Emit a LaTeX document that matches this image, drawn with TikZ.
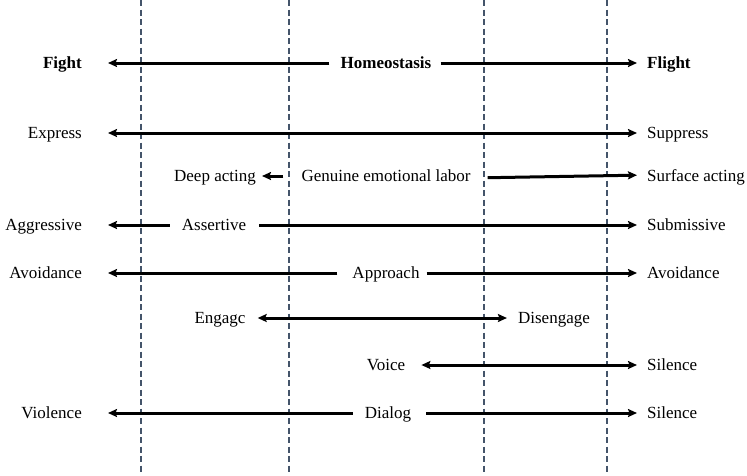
\documentclass[tikz,border=0pt]{standalone}
\usepackage{fontspec}
\setmainfont{Liberation Serif}
\usetikzlibrary{arrows.meta}
\definecolor{zonegray}{HTML}{44546A}
\tikzset{
  lab/.style={inner sep=0pt,text height=11pt,text depth=0pt,font=\fontsize{17}{20}\selectfont},
  head/.style={lab,font=\fontsize{17}{20}\selectfont\bfseries},
  link/.style={line width=3pt,-{Stealth[length=9pt,width=8pt,inset=1.5pt]}},
  twoway/.style={line width=3pt,{Stealth[length=9pt,width=8pt,inset=1.5pt]}-{Stealth[length=9pt,width=8pt,inset=1.5pt]}},
  zone/.style={draw=zonegray,line width=1.3pt,dash pattern=on 6pt off 3.5pt}
}

\begin{document}
\begin{tikzpicture}[x=1pt,y=-1pt]
\useasboundingbox (0,0) rectangle (747,475);

% zone borders
\foreach \x in {141,289,484,607}
  \draw[zone] (\x,0) -- (\x,475);

% fight -- flight
\node[head,anchor=east] (fight) at (82,63) {Fight};
\node[head] (homeo) at (386,63) {Homeostasis};
\node[head,anchor=west] (flight) at (647,63) {Flight};
\draw[link,shorten <=11pt,shorten >=26pt] (homeo) -- (fight);
\draw[link,shorten <=9pt,shorten >=10pt] (homeo) -- (flight);

% emotions
\node[lab,anchor=east] (express) at (82,133) {Express};
\node[lab,anchor=west] (suppress) at (647,133) {Suppress};
\draw[twoway,shorten <=26pt,shorten >=10pt] (express) -- (suppress);

% emotional labor
\node[lab,anchor=east] (deep) at (256,176) {Deep acting};
\node[lab] (genuine) at (386,176) {Genuine emotional labor};
\node[lab,anchor=west] (surface) at (647,176) {Surface acting};
\draw[link,shorten <=18pt,shorten >=6pt] (genuine) -- (deep);
\draw[link,shorten <=17pt,shorten >=10pt] ([yshift=-2pt]genuine.east) -- ([yshift=1pt]surface.west);

% behaviour
\node[lab,anchor=east] (aggr) at (82,225) {Aggressive};
\node[lab] (assert) at (214,225) {Assertive};
\node[lab,anchor=west] (submis) at (647,225) {Submissive};
\draw[link,shorten <=12pt,shorten >=26pt] (assert) -- (aggr);
\draw[link,shorten <=13pt,shorten >=10pt] (assert) -- (submis);

% approach / avoidance
\node[lab,anchor=east] (avoidL) at (82,273) {Avoidance};
\node[lab] (approach) at (386,273) {Approach};
\node[lab,anchor=west] (avoidR) at (647,273) {Avoidance};
\draw[link,shorten <=15pt,shorten >=26pt] (approach) -- (avoidL);
\draw[link,shorten <=7pt,shorten >=10pt] (approach) -- (avoidR);

% engagement
\node[lab] (engage) at (220,318) {Engagc};
\node[lab] (disengage) at (554,318) {Disengage};
\draw[twoway,shorten <=12pt,shorten >=11pt] (engage) -- (disengage);

% voice
\node[lab] (voice) at (386,365) {Voice};
\node[lab,anchor=west] (silenceA) at (647,365) {Silence};
\draw[twoway,shorten <=16pt,shorten >=10pt] (voice) -- (silenceA);

% dialog
\node[lab,anchor=east] (violence) at (82,413) {Violence};
\node[lab] (dialog) at (388,413) {Dialog};
\node[lab,anchor=west] (silenceB) at (647,413) {Silence};
\draw[link,shorten <=12pt,shorten >=26pt] (dialog) -- (violence);
\draw[link,shorten <=15pt,shorten >=10pt] (dialog) -- (silenceB);
\end{tikzpicture}
\end{document}
